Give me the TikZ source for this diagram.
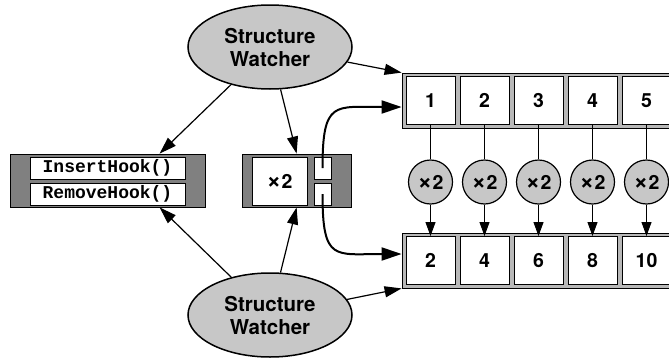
\documentclass[tikz,border=0pt]{standalone}
\usepackage{fontspec}
\setmainfont{TeX Gyre Heros}
\setmonofont{Liberation Mono}
\usetikzlibrary{shapes.geometric,arrows.meta,calc}
\definecolor{lightfill}{gray}{0.78}
\definecolor{framefill}{gray}{0.72}
\definecolor{darkfill}{gray}{0.5}
\newcommand\timestwo{{\fontsize{25}{20}\selectfont ×}\kern0.5pt 2}
\begin{document}
\begin{tikzpicture}[x=1pt,y=-1pt,
  watcher/.style={ellipse,draw,line width=1.5pt,fill=lightfill,minimum width=164pt,minimum height=84pt,
    inner sep=0pt,align=center,font=\bfseries\fontsize{20.5}{23}\selectfont},
  holder/.style={draw,line width=0.8pt,fill=darkfill,inner sep=0pt},
  slot/.style={draw,line width=0.8pt,fill=white,inner sep=0pt},
  hookbox/.style={slot,minimum width=155pt,minimum height=22pt,font=\ttfamily\bfseries\fontsize{18}{20}\selectfont},
  frame/.style={draw,line width=0.8pt,fill=framefill,minimum width=274pt,minimum height=55pt,inner sep=0pt},
  cell/.style={draw,line width=1pt,fill=white,minimum width=49pt,minimum height=48pt,inner sep=0pt,
    font=\bfseries\fontsize{19.5}{20}\selectfont},
  doubler/.style={circle,draw,line width=1.2pt,fill=lightfill,minimum size=44pt,inner sep=0pt,
    font=\bfseries\fontsize{19.5}{20}\selectfont},
  link/.style={line width=1pt},
  feed/.style={line width=1pt,-{Triangle[length=14pt,width=10pt]}},
  watch/.style={line width=1.2pt,-{Triangle[length=17pt,width=11pt]}},
  route/.style={line width=2pt,-{Triangle[length=20pt,width=13pt]}}
]
\useasboundingbox (0,0) rectangle (669,359);

% the two structure watchers
\node[watcher] (sw1) at (270,47) {Structure\\Watcher};
\node[watcher] (sw2) at (270,315) {Structure\\Watcher};

% hook table
\node[holder,minimum width=195pt,minimum height=53pt] (lb) at (107.5,180.5) {};
\node[hookbox] (ins) at (107.5,168) {InsertHook()};
\node[hookbox] (rem) at (107.5,194) {RemoveHook()};

% doubling operator with its two ports
\node[holder,minimum width=109pt,minimum height=53pt] (mid) at (296.5,180.5) {};
\node[slot,minimum width=55pt,minimum height=48pt,font=\bfseries\fontsize{19.5}{20}\selectfont] (mul) at (279.5,181) {\timestwo};
\node[slot,minimum width=17pt,minimum height=22pt] (sq1) at (322.5,168) {};
\node[slot,minimum width=17pt,minimum height=22pt] (sq2) at (322.5,194) {};

% input and output arrays
\node[frame] (ta) at (539,100.5) {};
\node[frame] (ba) at (539,260.5) {};
\foreach \i/\d in {1/2,2/4,3/6,4/8,5/10}{
  \node[cell] (c\i) at ({430.5+54*(\i-1)},100.5) {\i};
  \node[cell] (d\i) at ({430.5+54*(\i-1)},260.5) {\d};
  \node[doubler] (m\i) at ({430.5+54*(\i-1)},182) {\timestwo};
  \draw[link] (c\i) -- (m\i);
  \draw[feed] (m\i) -- (d\i);
}

% watcher connections
\draw[watch] (sw1) -- ([xshift=150pt]lb.north west);
\draw[watch] (sw1) -- ([xshift=55pt]mid.north west);
\draw[watch] (sw1) -- (ta.north west);
\draw[watch] (sw2) -- ([xshift=150pt]lb.south west);
\draw[watch] (sw2) -- ([xshift=55pt]mid.south west);
\draw[watch] (sw2) -- (ba.south west);

% operator ports bound to the arrays
\draw[route] (sq1.center) .. controls ($(sq1.center)+(0,-68)$) and ($(ta.west)+(-67,6.5)$) .. ($(ta.west)+(0,6.5)$);
\draw[route] (sq2.center) .. controls ($(sq2.center)+(0,68)$) and ($(ba.west)+(-67,-6.5)$) .. ($(ba.west)+(0,-6.5)$);
\end{tikzpicture}
\end{document}
